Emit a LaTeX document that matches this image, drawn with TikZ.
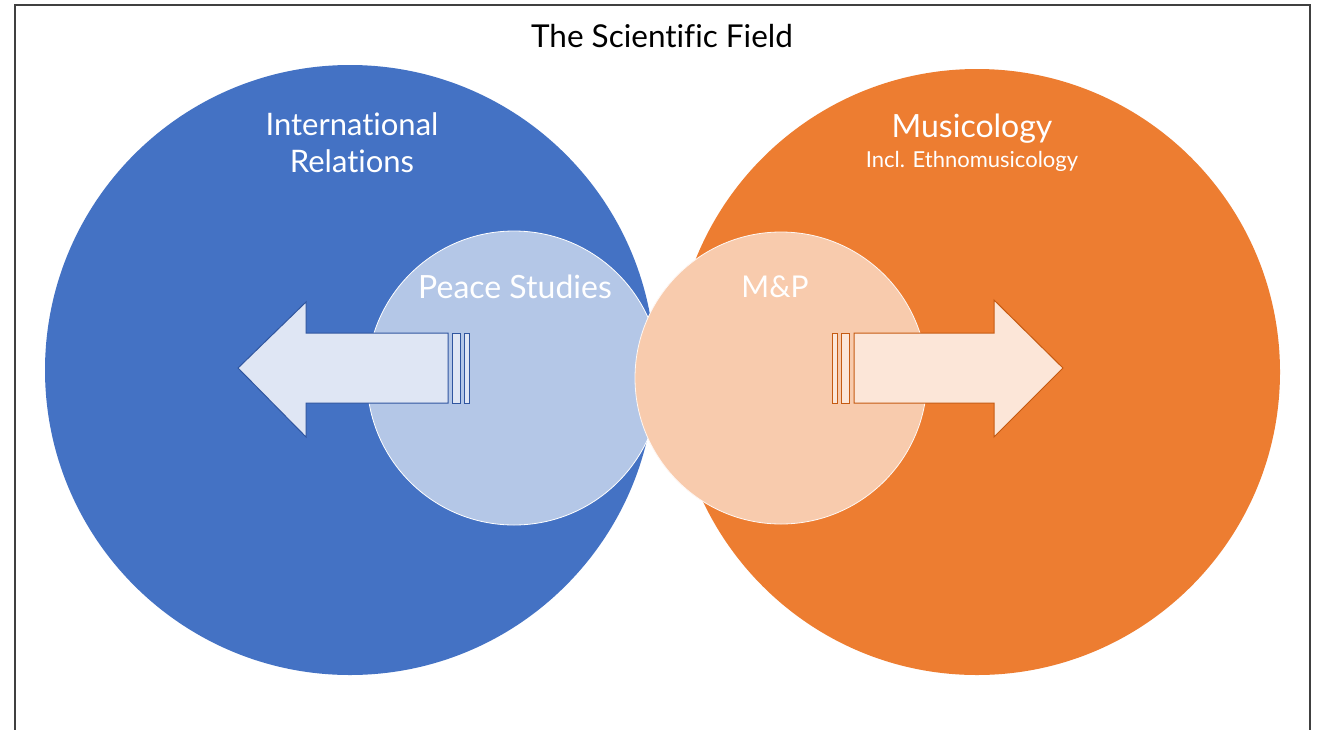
\documentclass[tikz,border=0pt]{standalone}
\usepackage{fontspec}
\setmainfont{Lato}[Ligatures={NoCommon}]
\definecolor{irblue}{HTML}{4472C4}
\definecolor{muorange}{HTML}{ED7D31}
\definecolor{psblue}{HTML}{B4C7E7}
\definecolor{mppeach}{HTML}{F8CBAD}
\definecolor{arrblue}{HTML}{DFE6F4}
\definecolor{arrpeach}{HTML}{FCE6D8}
\definecolor{lineblue}{HTML}{2F559F}
\definecolor{lineorange}{HTML}{C55A11}
\begin{document}
\begin{tikzpicture}[x=1pt,y=-1pt,
  bigtext/.style={text=white,font=\fontsize{31}{37}\selectfont,align=center},
  arrowl/.style={fill=arrblue,draw=lineblue,line width=1pt},
  arrowr/.style={fill=arrpeach,draw=lineorange,line width=1pt}]
\useasboundingbox (0,0) rectangle (1317,729);
\clip (0,0) rectangle (1317,729);
\fill[white] (0,0) rectangle (1317,729);
\draw[line width=1.6pt,draw=black!75] (15,760) -- (15,5) -- (1310,5) -- (1310,760);
% big circles
\fill[irblue] (350,370) circle (305);
\fill[muorange] (977,372) circle (303);
% inner circles
\draw[fill=psblue,draw=white,line width=0.8pt] (514,378) circle (147);
\draw[fill=mppeach,draw=white!85!mppeach,line width=0.8pt] (781,378) circle (146);
% titles
\node[font=\fontsize{31.5}{36}\selectfont] (title) at (662,36) {The Scientific Field};
\node[bigtext] (ir) at (352,143) {International\\Relations};
\node[bigtext,font=\fontsize{32}{36}\selectfont] (mu) at (972,129) {Musicology};
\node[text=white,font=\fontsize{22}{26}\selectfont] (incl) at (972,161) {Incl. Ethnomusicology};
\node[bigtext,font=\fontsize{32}{36}\selectfont] (ps) at (515,287) {Peace Studies};
\node[bigtext,font=\fontsize{30}{36}\selectfont] (mp) at (775,287) {M\&P};
% left arrow
\path[arrowl] (448,333) -- (306,333) -- (306,302) -- (238,368) -- (306,437) -- (306,403) -- (448,403) -- cycle;
\path[arrowl] (452,333) rectangle (460,403);
\path[arrowl] (464,333) rectangle (469,403);
% right arrow
\path[arrowr] (854,333) -- (994,333) -- (994,300) -- (1063,368) -- (994,437) -- (994,403) -- (854,403) -- cycle;
\path[arrowr] (841,333) rectangle (849,403);
\path[arrowr] (832,333) rectangle (837,403);
\end{tikzpicture}
\end{document}
